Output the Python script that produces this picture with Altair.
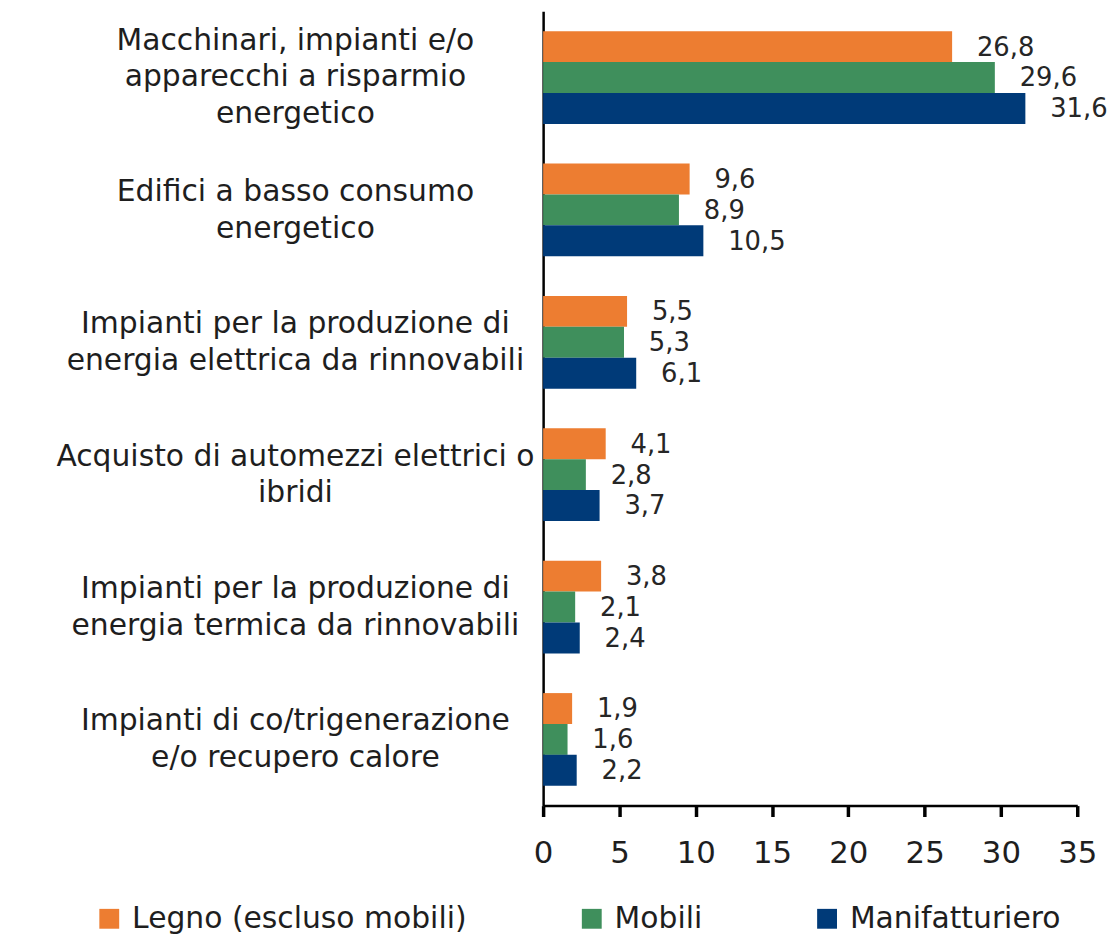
import altair as alt
import pandas as pd

categories = [
    "Macchinari, impianti e/o|apparecchi a risparmio|energetico",
    "Edifici a basso consumo|energetico",
    "Impianti per la produzione di|energia elettrica da rinnovabili",
    "Acquisto di automezzi elettrici o|ibridi",
    "Impianti per la produzione di|energia termica da rinnovabili",
    "Impianti di co/trigenerazione|e/o recupero calore",
]
series = ["Legno (escluso mobili)", "Mobili", "Manifatturiero"]
legno = [26.8, 9.6, 5.5, 4.1, 3.8, 1.9]
mobili = [29.6, 8.9, 5.3, 2.8, 2.1, 1.6]
manif = [31.6, 10.5, 6.1, 3.7, 2.4, 2.2]
colors = ["#ED7D31", "#3F8F5C", "#003A78"]
x_ticks = [0, 5, 10, 15, 20, 25, 30, 35]

rows = []
for s, vals in zip(series, [legno, mobili, manif]):
    for c, v in zip(categories, vals):
        rows.append({"cat": c, "serie": s, "value": v,
                     "label": f"{v:.1f}".replace(".", ",")})
df = pd.DataFrame(rows)

FONT = "DejaVu Sans"
TXT = "#1e1e1e"

y_enc = alt.Y("cat:N", sort=categories, title=None,
              scale=alt.Scale(paddingInner=0.3, paddingOuter=0.15),
              axis=alt.Axis(labelExpr="split(datum.label, '|')",
                            labelFontSize=30, labelFont=FONT, labelColor=TXT,
                            labelLineHeight=37, labelPadding=250, labelLimit=700,
                            labelAlign="center", labelOffset=-18,
                            labelBaseline=alt.condition(
                                "length(split(datum.label, '|')) == 3",
                                alt.value("line-bottom"), alt.value("middle")),
                            ticks=False, domainColor="#000000", domainWidth=2.5))
yoff = alt.YOffset("serie:N", sort=series, scale=alt.Scale(paddingInner=0, paddingOuter=0))
x_enc = alt.X("value:Q", title=None,
              scale=alt.Scale(domain=[0, 35], nice=False),
              axis=alt.Axis(values=x_ticks, grid=False, tickSize=11, tickWidth=3.5,
                            tickColor="#000000", domainColor="#000000", domainWidth=2.5,
                            labelFontSize=31, labelFont=FONT, labelColor=TXT,
                            labelPadding=22, labelFlush=False))

bars = alt.Chart(df).mark_bar().encode(
    x=x_enc, y=y_enc, yOffset=yoff,
    color=alt.Color("serie:N", sort=series, title=None,
                    scale=alt.Scale(domain=series, range=colors),
                    legend=alt.Legend(orient="none", legendX=-452, legendY=899,
                                      direction="horizontal", symbolType="square",
                                      symbolSize=400, symbolStrokeWidth=0,
                                      labelFontSize=30, labelFont=FONT,
                                      labelColor=TXT, columnPadding=110,
                                      labelOffset=8, labelLimit=700)),
)
texts = alt.Chart(df).mark_text(align="left", baseline="middle", dx=25, dy=1,
                                fontSize=26, font=FONT, color="#262626").encode(
    x="value:Q", y=alt.Y("cat:N", sort=categories), yOffset=yoff, text="label:N")

chart = alt.layer(bars, texts).properties(
    width=538, height=800, background="white",
    autosize=alt.AutoSizeParams(type="none"),
    padding={"left": 539, "top": 0, "right": 35, "bottom": 136},
).configure_view(stroke=None)

chart.save("out.html", embed_options={"renderer": "svg", "actions": False})
